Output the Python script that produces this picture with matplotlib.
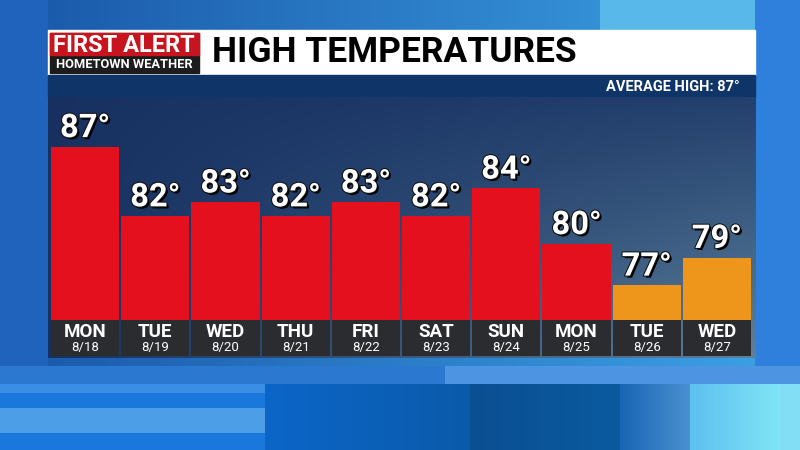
import numpy as np
import matplotlib.pyplot as plt
import matplotlib.patheffects as pe
from matplotlib.patches import Rectangle

days = ['MON', 'TUE', 'WED', 'THU', 'FRI', 'SAT', 'SUN', 'MON', 'TUE', 'WED']
dates = ['8/18', '8/19', '8/20', '8/21', '8/22', '8/23', '8/24', '8/25', '8/26', '8/27']
highs = [87, 82, 83, 82, 83, 82, 84, 80, 77, 79]
avg_high = 87

RED = '#e5101d'
ORANGE = '#ee951b'

plt.rcParams['font.family'] = ['Roboto', 'DejaVu Sans']

fig = plt.figure(figsize=(8, 4.5), dpi=100)
W, H = 800, 450


def px_axes(x0, y0, x1, y1, **kw):
    """axes from pixel box (top-left origin)"""
    return fig.add_axes([x0 / W, 1 - y1 / H, (x1 - x0) / W, (y1 - y0) / H], **kw)


def hexrgb(c):
    c = c.lstrip('#')
    return np.array([int(c[i:i + 2], 16) / 255 for i in (0, 2, 4)])


def hgrad(c0, c1, n):
    f = np.linspace(0, 1, n)[:, None]
    return hexrgb(c0) * (1 - f) + hexrgb(c1) * f


# full background: blue broadcast backdrop
bg = px_axes(0, 0, W, H)
yy, xx = np.mgrid[0:H, 0:W]
t = xx / W
img = np.dstack([0.10 + 0.14 * t, 0.34 + 0.30 * t, 0.66 + 0.24 * t])
# bottom blocks
img[366:384, 445:] = hexrgb('#4d95e2')
img[366:384, :445] = hexrgb('#2a78d0')
img[384:450, :265] = hexrgb('#1a78dc')
img[384:393, :265] = hexrgb('#3a8fe4')
img[408:433, :265] = hexrgb('#4c9ee6')
img[384:450, 265:470] = hgrad('#0c66c8', '#0a5aaa', 205)
img[384:450, 470:620] = hgrad('#0a4f92', '#0b5aa0', 150)
img[384:450, 620:690] = hgrad('#1a66b4', '#4a90d0', 70)
img[384:450, 690:780] = hgrad('#5cc0f0', '#80e4f6', 90)
img[384:450, 780:] = hexrgb('#82def5')
# right side column
img[:366, 755:] = hexrgb('#2f80dc')
img[:30, 600:755] = hexrgb('#58b8ea')
img[:366, :48] = hexrgb('#1f63bd')
bg.imshow(np.clip(img, 0, 1), extent=[0, W, H, 0], aspect='auto')
bg.set_xlim(0, W)
bg.set_ylim(H, 0)
bg.axis('off')

# title bar
bg.add_patch(Rectangle((48, 30), 707, 45, color='white'))
bg.add_patch(Rectangle((50, 33), 149, 40, color='#1c1c1c'))
bg.add_patch(Rectangle((50, 33), 149, 22, color='#c8141e'))
bg.text(124, 45, 'FIRST ALERT', color='white', fontsize=17, fontweight='bold',
        ha='center', va='center')
bg.text(124, 64, 'HOMETOWN WEATHER', color='white', fontsize=9.3, fontweight='bold',
        ha='center', va='center')
bg.text(212, 52, 'HIGH TEMPERATURES', color='black', fontsize=25.5, fontweight='bold',
        ha='left', va='center')

# average strip
bg.add_patch(Rectangle((48, 75), 707, 22, color='#0f3468'))
bg.text(740, 87, f'AVERAGE HIGH: {avg_high}°', color='white', fontsize=10.5,
        fontweight='bold', ha='right', va='center')

# panel behind the bars
panel = px_axes(48, 97, 755, 358)
py, pxx = np.mgrid[0:100, 0:100]
s = (py / 100) * (pxx / 100)
pr = 0.09 + 0.22 * s + 0.05 * pxx / 100
pg = 0.19 + 0.26 * s + 0.06 * pxx / 100
pb = 0.38 + 0.18 * s + 0.05 * pxx / 100
panel.imshow(np.clip(np.dstack([pr, pg, pb]), 0, 1), aspect='auto')
panel.axis('off')

# bars
ax = px_axes(50, 97, 752, 320)
ax.patch.set_alpha(0)
x = np.arange(len(highs))
colors = [ORANGE if v < 80 else RED for v in highs]
ax.bar(x, highs, width=0.97, color=colors)
ax.set_xlim(-0.5, len(highs) - 0.5)
ax.set_ylim(74.5, 90.6)
ax.axis('off')
for xi, v in zip(x, highs):
    ax.text(xi, v + 0.2, f'{v}°', color='white', fontsize=23.5, fontweight='bold',
            ha='center', va='bottom',
            path_effects=[pe.withSimplePatchShadow(offset=(1.5, -1.5),
                                                   shadow_rgbFace='black', alpha=1),
                          pe.withStroke(linewidth=1.5, foreground='#111111')])

# day/date band
lab = px_axes(50, 320, 752, 356)
lab.set_xlim(-0.5, len(highs) - 0.5)
lab.set_ylim(0, 1)
lab.bar(x, [1] * len(x), width=0.97, color='#2b2c30')
lab.set_facecolor('#3a5a80')
lab.axis('off')
for xi, d, dt in zip(x, days, dates):
    lab.text(xi, 0.67, d, color='white', fontsize=13.5, fontweight='bold',
             ha='center', va='center')
    lab.text(xi, 0.24, dt, color='white', fontsize=9.5, ha='center', va='center')

fig.savefig('out.png', dpi=100)
